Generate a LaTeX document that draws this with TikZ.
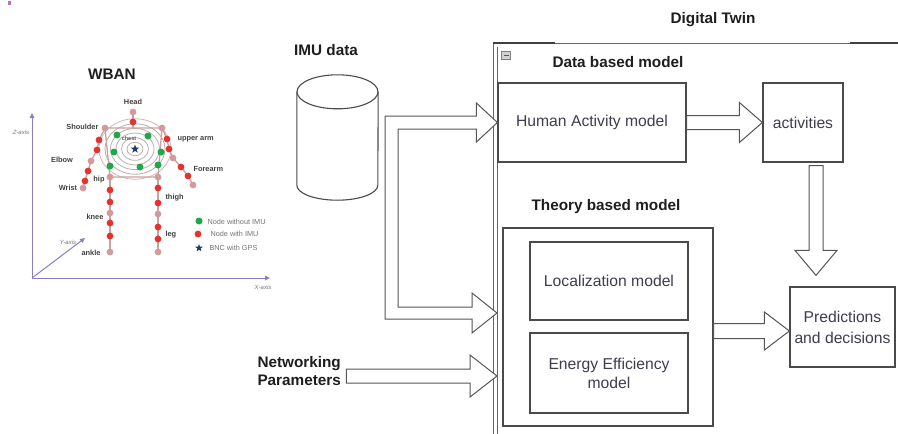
\documentclass[tikz,border=0pt]{standalone}
\usepackage{fontspec}
\setmainfont{Liberation Sans}
\usetikzlibrary{shapes.geometric,arrows.meta,calc}

\definecolor{boxline}{HTML}{4A4A4A}
\definecolor{arrowline}{HTML}{555555}
\definecolor{bodytext}{HTML}{3E3E4C}
\definecolor{headtext}{HTML}{1E1E1E}
\definecolor{axiscol}{HTML}{8C7CC0}
\definecolor{limb}{HTML}{C9A2A2}
\definecolor{jointpink}{HTML}{D29A9A}
\definecolor{imured}{HTML}{E5322E}
\definecolor{plaingreen}{HTML}{1FA84A}
\definecolor{bncblue}{HTML}{1E3C6E}
\definecolor{ringgray}{HTML}{B9AEAE}

% hollow horizontal block arrow: #1 tail, #2 tip, #3 half shaft, #4 half head, #5 head length
\newcommand\rightblock[5]{%
  \draw[blockarrow] let \p1=#1, \p2=#2 in
    (\x1,\y2+#3pt) -- (\x2-#5pt,\y2+#3pt) -- (\x2-#5pt,\y2+#4pt) -- (\x2,\y2)
    -- (\x2-#5pt,\y2-#4pt) -- (\x2-#5pt,\y2-#3pt) -- (\x1,\y2-#3pt) -- cycle;}

\begin{document}
\begin{tikzpicture}[x=1pt,y=-1pt,
  modelbox/.style={draw=boxline, line width=1.2pt, fill=white, rectangle, inner sep=2pt,
    align=center, text=bodytext, font=\fontsize{15.7}{19}\selectfont},
  blockarrow/.style={draw=arrowline, line width=1pt, fill=white, line join=miter},
  heading/.style={font=\bfseries\fontsize{15.3}{18}\selectfont, text=headtext, align=center},
  cylline/.style={draw=boxline, line width=1.1pt},
  limbline/.style={draw=limb, line width=1.3pt},
  imu/.style={circle, fill=imured, minimum size=6.8pt, inner sep=0pt},
  joint/.style={circle, fill=jointpink, minimum size=6.8pt, inner sep=0pt},
  plainnode/.style={circle, fill=plaingreen, minimum size=7pt, inner sep=0pt},
  partlabel/.style={font=\bfseries\fontsize{7.4}{8}\selectfont, text=black!75},
  axislabel/.style={font=\itshape\fontsize{6}{7}\selectfont, text=black!55},
  legendtext/.style={font=\fontsize{7.3}{8}\selectfont, text=black!55, anchor=west},
]
\useasboundingbox (0,0) rectangle (898,434);
\clip (0,0) rectangle (898,434);

\fill[violet!55] (8,1) rectangle (11,5);

% ---------------- WBAN body sketch ----------------
\node[heading] (wbanlabel) at (112,74) {WBAN};

\coordinate (origin) at (32,278);
\draw[axiscol, line width=1pt, -{Triangle[length=5pt,width=4.5pt]}] (origin) -- (32,113);
\draw[axiscol, line width=1pt, -{Triangle[length=5pt,width=4.5pt]}] (origin) -- (270,278);
\draw[axiscol, line width=1pt, -{Triangle[length=5pt,width=4.5pt]}] (origin) -- (85,238);
\node[axislabel] (zlab) at (21,132) {Z-axis};
\node[axislabel] (ylab) at (68,242) {Y-axis};
\node[axislabel] (xlab) at (263,287) {X-axis};

% rings around the chest
\foreach \r/\c in {36/limb!80, 30/ringgray, 24.5/ringgray, 19/ringgray, 13.5/ringgray, 8/ringgray}
  \draw[\c, line width=0.8pt] (135,149) ellipse [x radius=\r pt, y radius=0.84*\r pt];

% skeleton
\draw[limbline] (133,112) -- (133,128);
\draw[limbline] (105,128) -- (162,128) -- (158,177) -- (110,177) -- cycle;
\draw[limbline] (105,128) -- (99,140) -- (97,150) -- (91,161) -- (88,171) -- (85,181) -- (83,188);
\draw[limbline] (162,128) -- (167,139) -- (169,149) -- (173,158) -- (181,167) -- (188,176) -- (193,185);
\draw[limbline] (110,177) -- (110,252);
\draw[limbline] (158,177) -- (158,252);

% sensor nodes
\node[joint] (head) at (133,112) {};
\node[imu] (neck) at (133,122) {};
\node[joint] (lsh) at (105,128) {};
\node[joint] (rsh) at (162,128) {};
\node[joint] (lhip) at (110,177) {};
\node[joint] (rhip) at (158,177) {};
\foreach \x/\y/\s [count=\i] in {99/140/imu, 97/150/imu, 91/161/joint, 88/171/imu, 85/181/imu, 83/188/joint}
  \node[\s] (la\i) at (\x,\y) {};
\foreach \x/\y/\s [count=\i] in {167/139/imu, 169/149/imu, 173/158/joint, 181/167/imu, 188/176/imu, 193/185/joint}
  \node[\s] (ra\i) at (\x,\y) {};
\foreach \y/\s [count=\i] in {190/imu, 202/imu, 213/joint, 223/imu, 236/imu, 252/joint}
  \node[\s] (ll\i) at (110,\y) {};
\foreach \y/\s [count=\i] in {188/imu, 203/imu, 214/joint, 227/imu, 239/imu, 252/joint}
  \node[\s] (rl\i) at (158,\y) {};
\foreach \x/\y [count=\i] in {117/135, 148/136, 114/152, 161/152, 110/166, 140/167, 158/165}
  \node[plainnode] (ch\i) at (\x,\y) {};
\node[star, star points=5, star point ratio=2.4, fill=bncblue, inner sep=0pt, minimum size=9pt] (bnc) at (135,149) {};

% body part labels
\node[partlabel] (headlab) at (133,102) {Head};
\node[partlabel, anchor=east] (shlab) at (102,127) {Shoulder};
\node[font=\bfseries\fontsize{5.5}{6}\selectfont, text=black!65] (chestlab) at (129,139) {chest};
\node[partlabel, anchor=west] (ualab) at (174,139) {upper arm};
\node[partlabel] (elblab) at (62,160) {Elbow};
\node[partlabel, anchor=west] (falab) at (190,169) {Forearm};
\node[partlabel] (hiplab) at (99,180) {hip};
\node[partlabel] (wrlab) at (68,188) {Wrist};
\node[partlabel, anchor=west] (thlab) at (162,198) {thigh};
\node[partlabel] (knlab) at (95,217) {knee};
\node[partlabel, anchor=west] (leglab) at (162,235) {leg};
\node[partlabel] (anklab) at (91,253) {ankle};

% legend
\node[plainnode] (lg1) at (199,221) {};
\node[legendtext] (lgt1) at (204,222) {Node without IMU};
\node[imu] (lg2) at (198,234) {};
\node[legendtext] (lgt2) at (207,234) {Node with IMU};
\node[star, star points=5, star point ratio=2.4, fill=bncblue, inner sep=0pt, minimum size=8pt] (lg3) at (199,248) {};
\node[legendtext] (lgt3) at (206,248) {BNC with GPS};

% ---------------- Digital twin frame ----------------
\node[draw=boxline!85, line width=1.1pt, minimum width=500, minimum height=450,
      anchor=north west, inner sep=0pt] (dt) at (493,43) {};
\draw[boxline!85, line width=1pt] ($(dt.north west)+(4,4)$) -- ($(dt.north west)+(4,400)$);
\draw[black!75, line width=1.4pt] (dt.north west) -- ($(dt.north west)+(62,0)$);
\draw[black!75, line width=1.4pt] ($(dt.north west)+(357,0)$) -- ($(dt.north west)+(405,0)$);
\node[draw=gray, fill=gray!35, minimum width=9, minimum height=8, inner sep=0pt] (minbtn) at (506,55.5) {};
\draw[black!65, line width=1pt] ($(minbtn.center)+(-2.5,0)$) -- ($(minbtn.center)+(2.5,0)$);

\node[heading] (dtlabel) at (713,20) {Digital Twin};
\node[heading] (datalabel) at (618,62) {Data based model};
\node[heading] (theorylabel) at (606,207) {Theory based model};
\node[heading] (imulabel) at (326,50) {IMU data};
\node[heading, align=left, anchor=west] (netlabel) at (254,371) {Networking\\Parameters};

% model boxes
\node[modelbox, minimum width=188, minimum height=79] (har) at (592,122.5) {Human Activity model};
\node[modelbox, minimum width=80, minimum height=79] (act) at (803,122.5) {activities};
\node[modelbox, minimum width=210, minimum height=198] (theory) at (608,327) {};
\node[modelbox, minimum width=158, minimum height=78] (loc) at (609,281) {Localization model};
\node[modelbox, minimum width=158, minimum height=80] (energy) at (609,373) {Energy Efficiency\\model};
\node[modelbox, minimum width=105, minimum height=80] (pred) at (842.5,327) {Predictions\\[2pt]and decisions};

% IMU data store
\node[minimum width=81, minimum height=125, inner sep=0pt] (cyl) at (337.5,137.5) {};
\draw[cylline, fill=white] ($(cyl.north west)+(0,17)$) -- ($(cyl.south west)+(0,-15)$)
  arc[start angle=180, end angle=360, x radius=40.5pt, y radius=15pt]
  -- ($(cyl.north east)+(0,17)$);
\draw[cylline, fill=white] ($(cyl.north)+(0,17)$) ellipse [x radius=40.5pt, y radius=17pt];

% entry points on the digital twin frame
\coordinate (thin) at ($(dt.north west)+(4,270)$);
\coordinate (netin) at ($(dt.north west)+(4,333)$);
\coordinate (netstart) at ($(netlabel.east)+(2,0)$);

% IMU data split into both models
\draw[blockarrow] let \p1=($(cyl.east)+(7,0)$), \p2=(har.west), \p3=(thin) in
  (\x1,\y2+6.5pt) -- (\x2-21pt,\y2+6.5pt) -- (\x2-21pt,\y2+19.5pt) -- (\x2,\y2)
  -- (\x2-21pt,\y2-19.5pt) -- (\x2-21pt,\y2-6.5pt) -- (\x1+13pt,\y2-6.5pt)
  -- (\x1+13pt,\y3+6pt) -- (\x3-25pt,\y3+6pt) -- (\x3-25pt,\y3+20pt) -- (\x3,\y3)
  -- (\x3-25pt,\y3-20pt) -- (\x3-25pt,\y3-6pt) -- (\x1,\y3-6pt) -- cycle;

% networking parameters into the twin
\rightblock{(netstart)}{(netin)}{7}{21}{27}

% activity recognition to activities
\rightblock{(har.east)}{(act.west)}{7}{20}{23}

% theory models to predictions
\rightblock{(theory.east)}{($(pred.west)+(0,4)$)}{7.5}{19}{25}

% activities down to predictions
\draw[blockarrow] let \p1=($(act.south)+(13,3)$), \p2=($(pred.north)+(0,-11)$) in
  (\x1-7pt,\y1) -- (\x1-7pt,\y2+25pt) -- (\x1-21pt,\y2+25pt) -- (\x1,\y2)
  -- (\x1+21pt,\y2+25pt) -- (\x1+7pt,\y2+25pt) -- (\x1+7pt,\y1) -- cycle;

\end{tikzpicture}
\end{document}
